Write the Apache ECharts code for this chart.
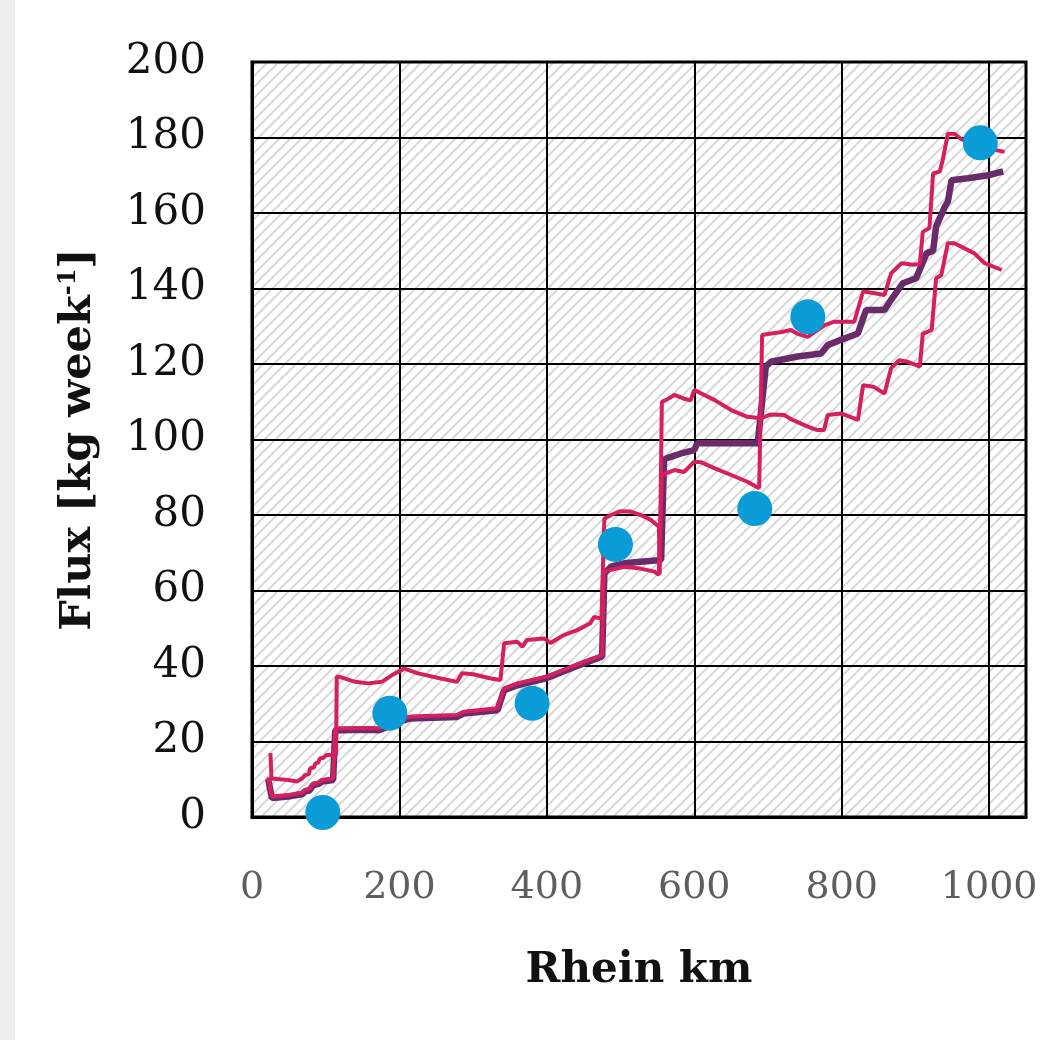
<!DOCTYPE html>
<html>
<head>
<meta charset="utf-8">
<title>Flux along the Rhine</title>
<script src="https://cdn.jsdelivr.net/npm/echarts@6/dist/echarts.min.js"></script>
<style>
  html, body { margin: 0; padding: 0; background: #ffffff; }
  #chart { width: 1056px; height: 1040px; }
</style>
</head>
<body>
<div id="chart"></div>
<script>
// Axis ranges (Rhein km on x, flux in kg/week on y)
const xRange = { min: 0, max: 1050, step: 200 };
const yRange = { min: 0, max: 200, step: 20 };

// Modelled flux, scenario A  [Rhein km, kg/week]
const fluxA = [
  [25, 16.9], [26.5, 10.2], [49, 9.8], [61, 9.4], [68, 10.2], [72, 11.1], [77, 11.3], [79, 12.9], [84, 13.1], [86, 14.2],
  [90, 14.4], [92, 15.5], [97, 15.7], [101, 16.4], [114, 16.4], [115, 37.2], [121, 37.0], [140, 35.8],
  [158, 35.4], [176, 35.8], [190, 37.6], [203, 38.9], [206, 39.4], [224, 38.1],
  [256, 36.7], [278, 35.8], [285, 38.1], [300, 37.8], [324, 36.7], [337, 36.3],
  [342, 46.0], [360, 46.4], [367, 45.1], [373, 46.9], [396, 47.3], [405, 46.1],
  [423, 48.2], [441, 49.5], [459, 51.3], [464, 53.0], [474, 52.6], [478, 79.0],
  [487, 80.0], [499, 81.0], [514, 80.9], [527, 80.0], [541, 78.7], [552, 76.9],
  [553, 64.3], [556, 110.0], [562, 110.5], [573, 111.8], [586, 110.8], [595, 110.4],
  [600, 113.1], [602, 113.6], [627, 110.5], [650, 107.8], [672, 106.0], [690, 105.6],
  [703, 106.6], [722, 106.5], [731, 105.4], [754, 103.4], [767, 102.5], [776, 102.5],
  [781, 106.5], [799, 106.9], [822, 105.2], [829, 114.4], [843, 114.0], [858, 112.2],
  [867, 118.9], [878, 121.0], [889, 120.6], [906, 119.3], [910, 128.0], [922, 129.0],
  [928, 142.7], [935, 143.5], [944, 152.0], [953, 152.0], [980, 149.3], [994, 146.7],
  [1017, 144.9]
];

// Modelled flux, scenario B  [Rhein km, kg/week]
const fluxB = [
  [22, 10.5], [27, 5.4], [49, 5.8], [63, 6.3], [68, 6.4], [72, 7.2], [78, 7.4], [83, 8.9], [90, 9.1], [95, 9.8],
  [110, 10.2], [113, 23.5], [120, 23.5], [158, 23.6], [172, 23.5], [190, 24.8],
  [200, 25.8], [215, 26.6], [278, 27.0], [287, 27.9], [333, 28.8], [342, 34.1],
  [360, 35.4], [400, 37.2], [428, 39.4], [450, 41.1], [475, 42.9], [477, 65.0],
  [505, 66.3], [527, 65.8], [546, 65.0], [552, 64.1], [556, 90.6], [573, 91.9],
  [586, 91.4], [600, 94.1], [609, 94.0], [627, 92.4], [650, 90.6], [672, 88.8],
  [688, 87.1], [692, 127.7], [704, 128.1], [717, 128.4], [731, 129.0], [740, 128.0],
  [754, 127.2], [777, 130.3], [790, 131.2], [817, 131.2], [829, 139.2], [843, 138.8],
  [858, 138.3], [867, 144.0], [881, 146.7], [897, 146.3], [906, 146.5], [910, 155.0],
  [919, 156.0], [924, 170.5], [933, 171.0], [937, 174.0], [944, 181.0], [953, 181.0],
  [962, 179.6], [985, 178.0], [1000, 177.0], [1021, 176.2]
];

// Mean modelled flux  [Rhein km, kg/week]
const fluxMean = [
  [22, 10.0], [27, 5.0], [49, 5.4], [63, 5.9], [68, 6.0], [72, 6.8], [78, 7.0], [83, 8.5], [90, 8.7], [95, 9.4],
  [110, 9.8], [113, 23.0], [120, 23.0], [158, 23.1], [172, 23.0], [190, 24.3],
  [200, 25.3], [215, 26.1], [278, 26.5], [287, 27.4], [333, 28.3], [342, 33.6],
  [360, 34.9], [400, 36.8], [428, 39.0], [450, 40.7], [475, 42.5], [478, 64.5],
  [487, 66.3], [505, 67.2], [527, 67.6], [555, 68.1], [559, 94.6], [562, 95.0],
  [582, 96.3], [600, 97.2], [604, 99.0], [686, 99.0], [697, 119.3], [704, 120.6],
  [740, 122.0], [772, 122.8], [781, 125.0], [799, 126.4], [822, 128.1], [833, 134.3],
  [858, 134.3], [867, 137.0], [883, 141.4], [901, 142.7], [915, 149.3], [924, 150.0],
  [928, 156.4], [940, 161.7], [944, 163.0], [949, 168.7], [971, 169.2], [999, 170.0],
  [1019, 171.0]
];

// Measured flux at sampling stations  [Rhein km, kg/week]
const measured = [
  [96, 1.2], [187, 27.5], [380, 30.1], [493, 72.2], [682, 81.7], [754, 132.5], [988, 178.6]
];

// Diagonal hatch tile for the plot background
function hatchTile() {
  const s = 11;
  const c = document.createElement('canvas');
  c.width = s; c.height = s;
  const g = c.getContext('2d');
  g.fillStyle = '#ffffff';
  g.fillRect(0, 0, s, s);
  g.strokeStyle = '#d4d4d4';
  g.lineWidth = 1.8;
  g.beginPath();
  g.moveTo(0, s); g.lineTo(s, 0);
  g.moveTo(-1, 1); g.lineTo(1, -1);
  g.moveTo(s - 1, s + 1); g.lineTo(s + 1, s - 1);
  g.stroke();
  return { image: c, repeat: 'repeat' };
}

const chart = echarts.init(document.getElementById('chart'), null, { renderer: 'canvas' });

const serif = '"DejaVu Serif", "Liberation Serif", serif';
const pink = '#d61f5f';
const purple = '#6a2b6b';
const blue = '#0b9bd7';

chart.setOption({
  backgroundColor: '#ffffff',
  animation: false,
  graphic: [{
    type: 'rect', left: 0, top: 0, z: -10,
    shape: { width: 15, height: 1040 },
    style: { fill: '#eeeeee' }
  }],
  grid: {
    left: 252, top: 62, width: 774, height: 755,
    show: true,
    backgroundColor: hatchTile(),
    borderColor: '#000000',
    borderWidth: 3
  },
  xAxis: {
    type: 'value',
    min: xRange.min, max: xRange.max, interval: xRange.step,
    name: 'Rhein km',
    nameLocation: 'middle',
    nameGap: 133,
    nameTextStyle: { fontFamily: serif, fontWeight: 'bold', fontSize: 42, color: '#111' },
    axisLine: { show: true, lineStyle: { color: '#000', width: 3 } },
    axisTick: { show: false },
    axisLabel: {
      showMaxLabel: false,
      margin: 52,
      fontFamily: serif, fontSize: 38, color: '#5e5e5e',
      formatter: function (v) { return String(v); }
    },
    splitLine: { show: true, lineStyle: { color: '#000', width: 2 } }
  },
  yAxis: {
    type: 'value',
    min: yRange.min, max: yRange.max, interval: yRange.step,
    name: '{t|Flux [kg week}{s|-1}{t|]}',
    nameLocation: 'middle',
    nameRotate: 90,
    nameGap: 152,
    nameTextStyle: {
      rich: {
        t: { fontFamily: serif, fontWeight: 'bold', fontSize: 43, color: '#111' },
        s: { fontFamily: serif, fontWeight: 'bold', fontSize: 24, color: '#111', verticalAlign: 'top', padding: [0, 0, 19, 0] }
      }
    },
    axisLine: { show: true, lineStyle: { color: '#000', width: 3 } },
    axisTick: { show: false },
    axisLabel: {
      margin: 46,
      fontFamily: serif, fontSize: 42, color: '#111'
    },
    splitLine: { show: true, lineStyle: { color: '#000', width: 2 } }
  },
  series: [
    {
      name: 'Mean', type: 'line', data: fluxMean, showSymbol: false, z: 2,
      lineStyle: { color: purple, width: 6.5 }
    },
    {
      name: 'Scenario A', type: 'line', data: fluxA, showSymbol: false, z: 3,
      lineStyle: { color: pink, width: 4 }
    },
    {
      name: 'Scenario B', type: 'line', data: fluxB, showSymbol: false, z: 3,
      lineStyle: { color: pink, width: 4 }
    },
    {
      name: 'Measured', type: 'scatter', data: measured, z: 5,
      symbol: 'circle', symbolSize: 35,
      itemStyle: { color: blue, opacity: 1 }
    }
  ]
});
</script>
</body>
</html>
